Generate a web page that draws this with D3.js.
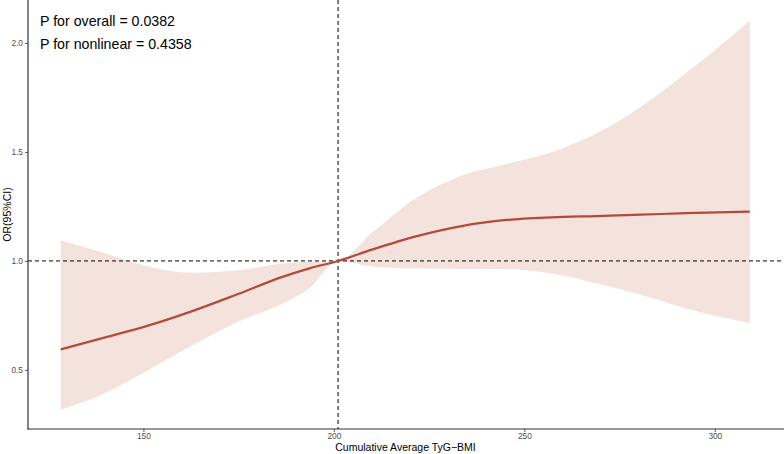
<!DOCTYPE html>
<html>
<head>
<meta charset="utf-8">
<script src="https://cdn.jsdelivr.net/npm/d3@7/dist/d3.min.js"></script>
<style>
html,body{margin:0;padding:0;background:#fff;}
svg{display:block;font-family:"Liberation Sans",Arial,sans-serif;}
</style>
</head>
<body>
<svg id="chart" width="784" height="454"></svg>
<script>
// Data
const xVals   = [128.3, 139.5, 151.2, 163.0, 174.8, 186.5, 193.6, 201.1, 210.0, 221.8, 233.5, 245.3, 257.1, 268.8, 280.6, 292.3, 309.2];
const orVals  = [0.594, 0.647, 0.703, 0.771, 0.848, 0.927, 0.966, 1.000, 1.052, 1.114, 1.160, 1.188, 1.200, 1.206, 1.212, 1.219, 1.226];
const upperCI = [1.095, 1.037, 0.975, 0.946, 0.957, 0.988, 0.996, 1.000, 1.129, 1.291, 1.391, 1.445, 1.499, 1.583, 1.707, 1.860, 2.102];
const lowerCI = [0.317, 0.390, 0.498, 0.614, 0.721, 0.804, 0.875, 1.000, 0.975, 0.965, 0.963, 0.963, 0.942, 0.898, 0.845, 0.783, 0.714];
const xTicks = [150, 200, 250, 300];
const yTicks = [0.5, 1.0, 1.5, 2.0];
const refX = 201.1;
const refY = 1.0;
const annotations = ["P for overall = 0.0382", "P for nonlinear = 0.4358"];
const xTitle = "Cumulative Average TyG\u2212BMI";
const yTitle = "OR(95%CI)";

(function () {
const data = xVals.map((x, i) => ({x, y: orVals[i], lo: lowerCI[i], hi: upperCI[i]}));

const svg = d3.select("#chart");
const pL = 28, pR = 783, pT = 0, pB = 429;

const x = d3.scaleLinear().domain([119.7, 317.9]).range([pL, pR]);
const y = d3.scaleLinear().domain([0.229, 2.197]).range([pB, pT]);

// CI band
svg.append("path")
  .datum(data)
  .attr("fill", "#f3e3dc")
  .attr("d", d3.area().x(d => x(d.x)).y0(d => y(d.lo)).y1(d => y(d.hi)).curve(d3.curveMonotoneX));

// reference lines
svg.append("line")
  .attr("x1", pL).attr("x2", 784)
  .attr("y1", y(refY)).attr("y2", y(refY))
  .attr("stroke", "#000").attr("stroke-width", 1).attr("stroke-dasharray", "4,3");
svg.append("line")
  .attr("x1", x(refX)).attr("x2", x(refX))
  .attr("y1", 0).attr("y2", pB)
  .attr("stroke", "#000").attr("stroke-width", 1).attr("stroke-dasharray", "4,3");

// main curve
svg.append("path")
  .datum(data)
  .attr("fill", "none")
  .attr("stroke", "#b54a3b")
  .attr("stroke-width", 2.2)
  .attr("d", d3.line().x(d => x(d.x)).y(d => y(d.y)).curve(d3.curveMonotoneX));

// axes
const xAxis = svg.append("g")
  .attr("transform", `translate(0,${pB})`)
  .call(d3.axisBottom(x).tickValues(xTicks).tickSize(3).tickPadding(1).tickFormat(d3.format("d")));
const yAxis = svg.append("g")
  .attr("transform", `translate(${pL},0)`)
  .call(d3.axisLeft(y).tickValues(yTicks).tickSize(3).tickPadding(2).tickFormat(d3.format(".1f")));

[xAxis, yAxis].forEach(g => {
  g.select(".domain").remove();
  g.selectAll(".tick line").attr("stroke", "#333").attr("stroke-width", 0.8);
  g.selectAll(".tick text").attr("fill", "#4d4d4d").style("font-size", "8.3px")
   .style("font-family", "'Liberation Sans',Arial,sans-serif");
});

// axis lines
svg.append("line").attr("x1", pL).attr("x2", pL).attr("y1", 0).attr("y2", pB + 0.6)
  .attr("stroke", "#333").attr("stroke-width", 1.2);
svg.append("line").attr("x1", pL - 0.6).attr("x2", 784).attr("y1", pB).attr("y2", pB)
  .attr("stroke", "#333").attr("stroke-width", 1.2);

// titles
svg.append("text")
  .attr("x", (pL + pR) / 2).attr("y", 450.5)
  .attr("text-anchor", "middle")
  .style("font-size", "10.5px").attr("fill", "#000")
  .text(xTitle);
svg.append("text")
  .attr("transform", `translate(11,${(pT + pB) / 2}) rotate(-90)`)
  .attr("text-anchor", "middle")
  .style("font-size", "10.5px").attr("fill", "#000")
  .text(yTitle);

// annotations
annotations.forEach((t, i) => {
  svg.append("text")
    .attr("x", 40).attr("y", 25.5 + i * 23)
    .style("font-size", "14.2px").attr("fill", "#000")
    .text(t);
});
})();
</script>
</body>
</html>
